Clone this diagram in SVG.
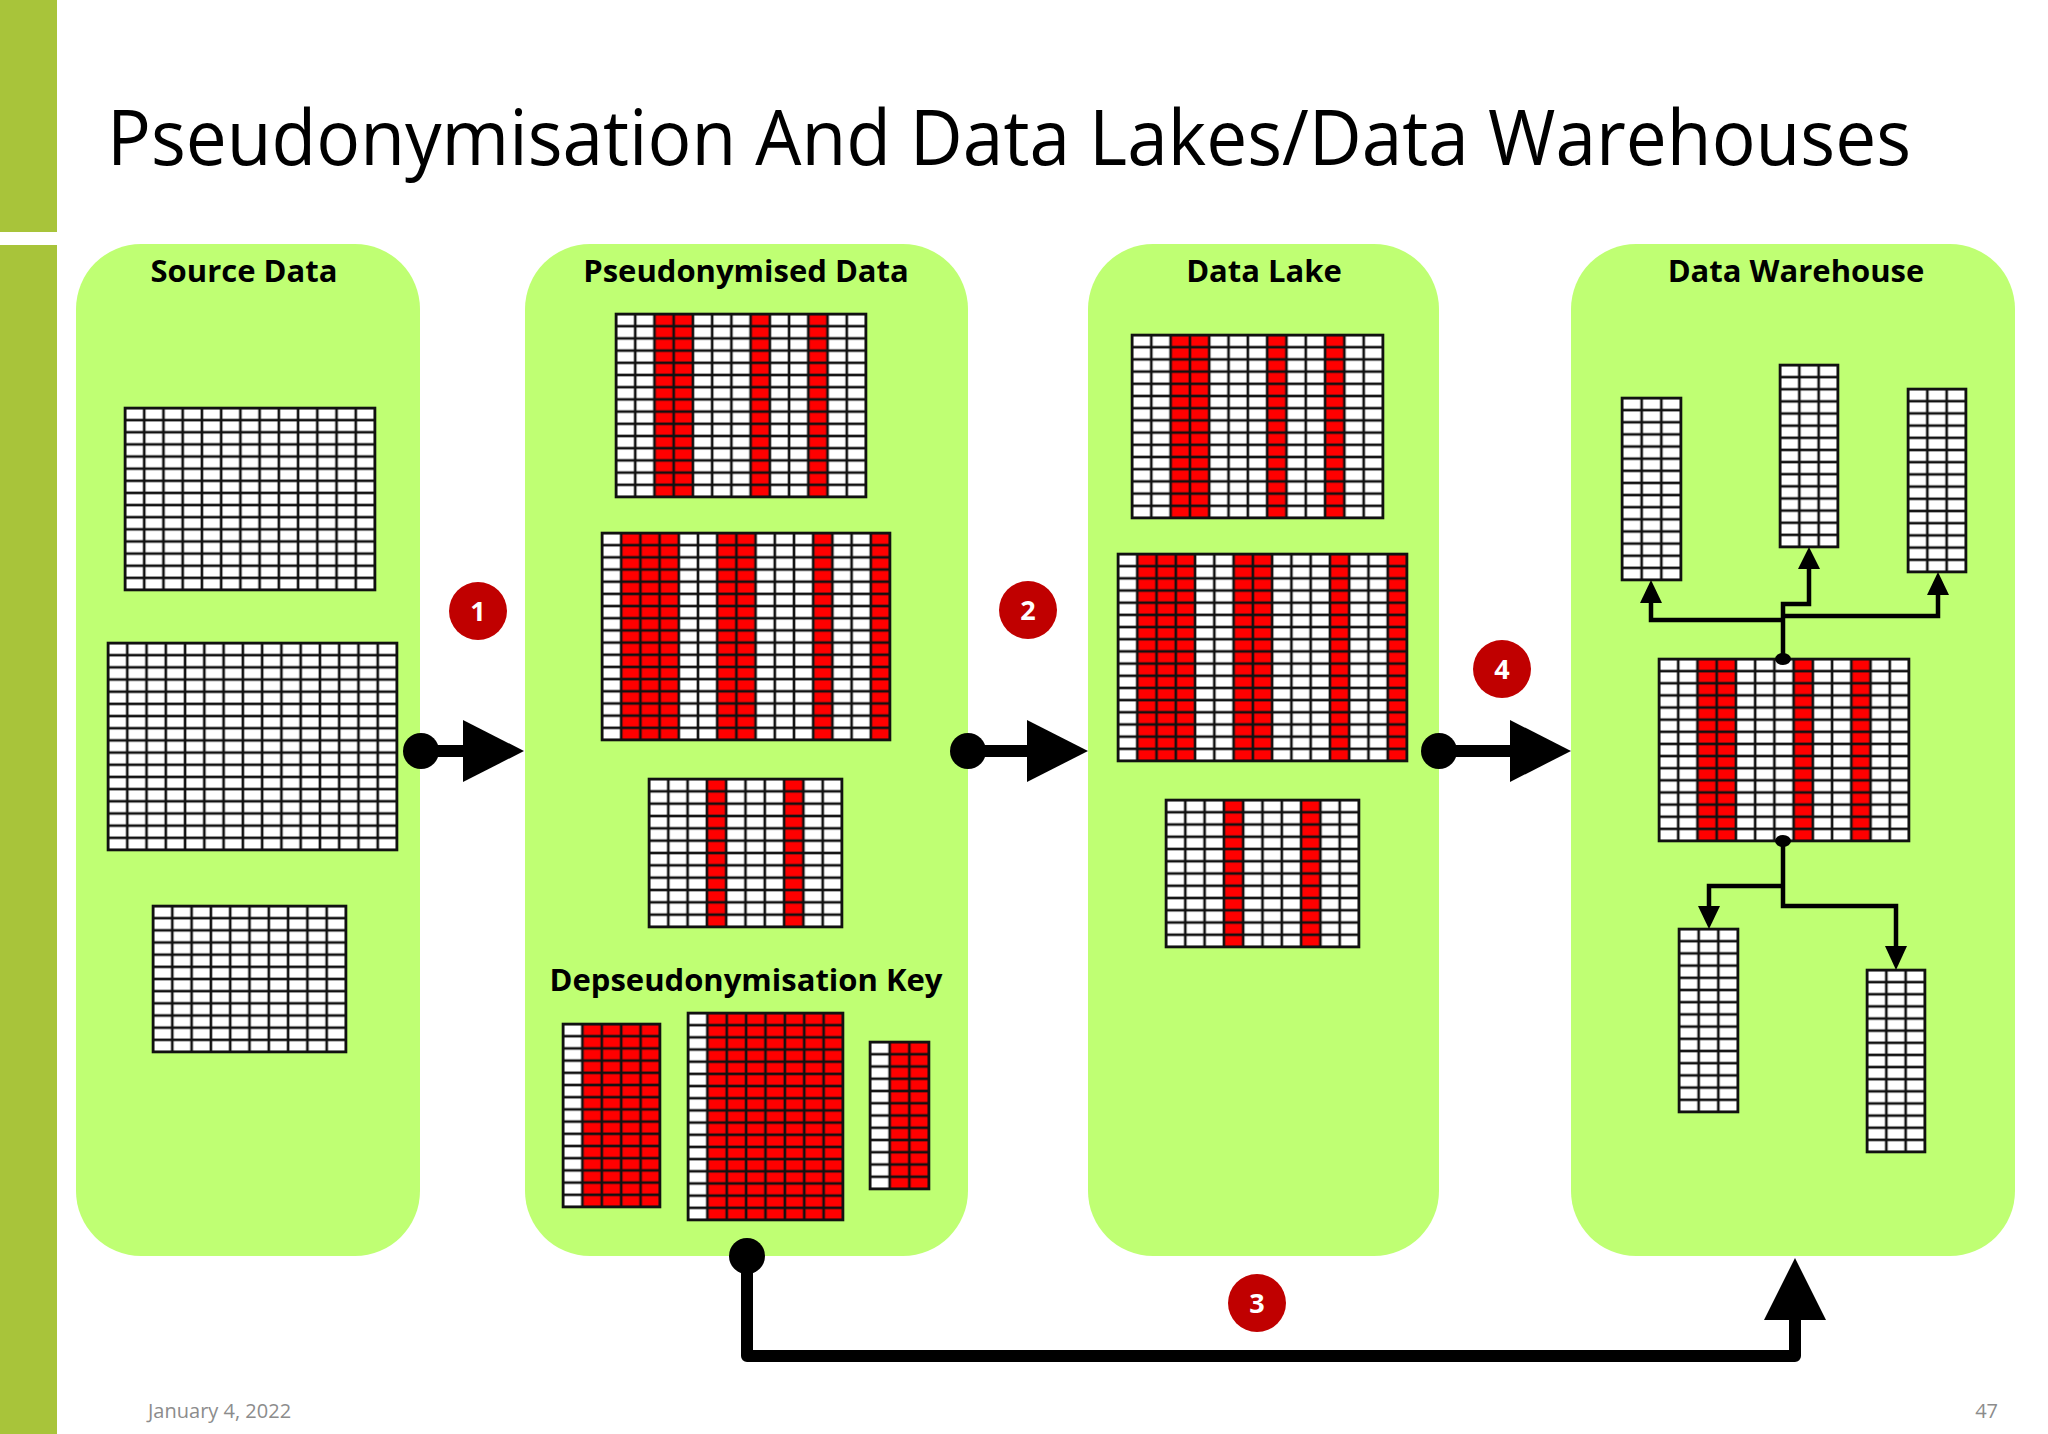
<svg xmlns="http://www.w3.org/2000/svg" width="2048" height="1434" viewBox="0 0 2048 1434">
<style>
.c{fill:none;stroke:#111;stroke-width:2.6}
.o{fill:none;stroke:#111;stroke-width:2.6}
.w{fill:#fff}
.r{fill:#f00}
.panel{fill:#bfff73}
.pt{font-family:"Open Sans","Noto Sans",sans-serif;font-weight:bold;font-size:31px;fill:#000;text-anchor:middle}
.num{font-family:"Open Sans","Noto Sans",sans-serif;font-weight:bold;font-size:27px;fill:#fff;text-anchor:middle}
.badge{fill:#c00000}
.ln{fill:none;stroke:#000;stroke-width:12}
.ln2{fill:none;stroke:#000;stroke-width:4.5}
</style>
<defs>
<pattern id="gS1" patternUnits="userSpaceOnUse" x="125" y="408" width="19.231" height="12.133"><rect width="19.231" height="12.133" class="c"/></pattern>
<pattern id="gS2" patternUnits="userSpaceOnUse" x="108" y="643" width="19.267" height="12.176"><rect width="19.267" height="12.176" class="c"/></pattern>
<pattern id="gS3" patternUnits="userSpaceOnUse" x="153" y="906" width="19.3" height="12.167"><rect width="19.3" height="12.167" class="c"/></pattern>
<pattern id="gP1" patternUnits="userSpaceOnUse" x="616" y="314" width="19.231" height="12.2"><rect width="19.231" height="12.2" class="c"/></pattern>
<pattern id="gP2" patternUnits="userSpaceOnUse" x="602" y="533" width="19.2" height="12.176"><rect width="19.2" height="12.176" class="c"/></pattern>
<pattern id="gP3" patternUnits="userSpaceOnUse" x="649" y="779" width="19.3" height="12.333"><rect width="19.3" height="12.333" class="c"/></pattern>
<pattern id="gK1" patternUnits="userSpaceOnUse" x="563" y="1024" width="19.4" height="12.2"><rect width="19.4" height="12.2" class="c"/></pattern>
<pattern id="gK2" patternUnits="userSpaceOnUse" x="688" y="1013" width="19.375" height="12.176"><rect width="19.375" height="12.176" class="c"/></pattern>
<pattern id="gK3" patternUnits="userSpaceOnUse" x="870" y="1042" width="19.667" height="12.25"><rect width="19.667" height="12.25" class="c"/></pattern>
<pattern id="gL1" patternUnits="userSpaceOnUse" x="1132" y="335" width="19.308" height="12.2"><rect width="19.308" height="12.2" class="c"/></pattern>
<pattern id="gL2" patternUnits="userSpaceOnUse" x="1118" y="554" width="19.267" height="12.176"><rect width="19.267" height="12.176" class="c"/></pattern>
<pattern id="gL3" patternUnits="userSpaceOnUse" x="1166" y="800" width="19.3" height="12.25"><rect width="19.3" height="12.25" class="c"/></pattern>
<pattern id="gW1" patternUnits="userSpaceOnUse" x="1622" y="398" width="19.667" height="12.133"><rect width="19.667" height="12.133" class="c"/></pattern>
<pattern id="gW2" patternUnits="userSpaceOnUse" x="1780" y="365" width="19.333" height="12.133"><rect width="19.333" height="12.133" class="c"/></pattern>
<pattern id="gW3" patternUnits="userSpaceOnUse" x="1908" y="389" width="19.333" height="12.2"><rect width="19.333" height="12.2" class="c"/></pattern>
<pattern id="gWC" patternUnits="userSpaceOnUse" x="1659" y="659" width="19.231" height="12.133"><rect width="19.231" height="12.133" class="c"/></pattern>
<pattern id="gB1" patternUnits="userSpaceOnUse" x="1679" y="929" width="19.667" height="12.2"><rect width="19.667" height="12.2" class="c"/></pattern>
<pattern id="gB2" patternUnits="userSpaceOnUse" x="1867" y="970" width="19.333" height="12.133"><rect width="19.333" height="12.133" class="c"/></pattern>
</defs>
<rect width="2048" height="1434" fill="#fff"/>
<rect x="0" y="0" width="57" height="232" fill="#a8c43a"/>
<rect x="0" y="245" width="57" height="1189" fill="#a8c43a"/>
<text x="107" y="165" font-family="'Open Sans','Noto Sans',sans-serif" font-size="76" textLength="1804" lengthAdjust="spacingAndGlyphs" fill="#000">Pseudonymisation And Data Lakes/Data Warehouses</text>

<g id="source-data">
<rect class="panel" x="76" y="244" width="344" height="1012" rx="65"/>
<text class="pt" x="244" y="282">Source Data</text>
<g id="S1"><rect class="w" x="125" y="408" width="250" height="182"/><rect fill="url(#gS1)" x="125" y="408" width="250" height="182"/><rect class="o" x="125" y="408" width="250" height="182"/></g>
<g id="S2"><rect class="w" x="108" y="643" width="289" height="207"/><rect fill="url(#gS2)" x="108" y="643" width="289" height="207"/><rect class="o" x="108" y="643" width="289" height="207"/></g>
<g id="S3"><rect class="w" x="153" y="906" width="193" height="146"/><rect fill="url(#gS3)" x="153" y="906" width="193" height="146"/><rect class="o" x="153" y="906" width="193" height="146"/></g>
</g>

<g id="pseudonymised-data">
<rect class="panel" x="525" y="244" width="443" height="1012" rx="65"/>
<text class="pt" x="746" y="282">Pseudonymised Data</text>
<g id="P1"><rect class="w" x="616" y="314" width="250" height="183"/><rect class="r" x="654.5" y="314" width="38.5" height="183"/><rect class="r" x="750.6" y="314" width="19.2" height="183"/><rect class="r" x="808.3" y="314" width="19.2" height="183"/><rect fill="url(#gP1)" x="616" y="314" width="250" height="183"/><rect class="o" x="616" y="314" width="250" height="183"/></g>
<g id="P2"><rect class="w" x="602" y="533" width="288" height="207"/><rect class="r" x="621.2" y="533" width="57.6" height="207"/><rect class="r" x="717.2" y="533" width="38.4" height="207"/><rect class="r" x="813.2" y="533" width="19.2" height="207"/><rect class="r" x="870.8" y="533" width="19.2" height="207"/><rect fill="url(#gP2)" x="602" y="533" width="288" height="207"/><rect class="o" x="602" y="533" width="288" height="207"/></g>
<g id="P3"><rect class="w" x="649" y="779" width="193" height="148"/><rect class="r" x="706.9" y="779" width="19.3" height="148"/><rect class="r" x="784.1" y="779" width="19.3" height="148"/><rect fill="url(#gP3)" x="649" y="779" width="193" height="148"/><rect class="o" x="649" y="779" width="193" height="148"/></g>
<text class="pt" x="746" y="991">Depseudonymisation Key</text>
<g id="K1"><rect class="w" x="563" y="1024" width="97" height="183"/><rect class="r" x="582.4" y="1024" width="77.6" height="183"/><rect fill="url(#gK1)" x="563" y="1024" width="97" height="183"/><rect class="o" x="563" y="1024" width="97" height="183"/></g>
<g id="K2"><rect class="w" x="688" y="1013" width="155" height="207"/><rect class="r" x="707.4" y="1013" width="135.6" height="207"/><rect fill="url(#gK2)" x="688" y="1013" width="155" height="207"/><rect class="o" x="688" y="1013" width="155" height="207"/></g>
<g id="K3"><rect class="w" x="870" y="1042" width="59" height="147"/><rect class="r" x="889.7" y="1042" width="39.3" height="147"/><rect fill="url(#gK3)" x="870" y="1042" width="59" height="147"/><rect class="o" x="870" y="1042" width="59" height="147"/></g>
</g>

<g id="data-lake">
<rect class="panel" x="1088" y="244" width="351" height="1012" rx="65"/>
<text class="pt" x="1264" y="282">Data Lake</text>
<g id="L1"><rect class="w" x="1132" y="335" width="251" height="183"/><rect class="r" x="1170.6" y="335" width="38.6" height="183"/><rect class="r" x="1267.2" y="335" width="19.3" height="183"/><rect class="r" x="1325.1" y="335" width="19.3" height="183"/><rect fill="url(#gL1)" x="1132" y="335" width="251" height="183"/><rect class="o" x="1132" y="335" width="251" height="183"/></g>
<g id="L2"><rect class="w" x="1118" y="554" width="289" height="207"/><rect class="r" x="1137.3" y="554" width="57.8" height="207"/><rect class="r" x="1233.6" y="554" width="38.5" height="207"/><rect class="r" x="1329.9" y="554" width="19.3" height="207"/><rect class="r" x="1387.7" y="554" width="19.3" height="207"/><rect fill="url(#gL2)" x="1118" y="554" width="289" height="207"/><rect class="o" x="1118" y="554" width="289" height="207"/></g>
<g id="L3"><rect class="w" x="1166" y="800" width="193" height="147"/><rect class="r" x="1223.9" y="800" width="19.3" height="147"/><rect class="r" x="1301.1" y="800" width="19.3" height="147"/><rect fill="url(#gL3)" x="1166" y="800" width="193" height="147"/><rect class="o" x="1166" y="800" width="193" height="147"/></g>
</g>

<g id="data-warehouse">
<rect class="panel" x="1571" y="244" width="444" height="1012" rx="65"/>
<text class="pt" x="1796" y="282">Data Warehouse</text>
<g id="W1"><rect class="w" x="1622" y="398" width="59" height="182"/><rect fill="url(#gW1)" x="1622" y="398" width="59" height="182"/><rect class="o" x="1622" y="398" width="59" height="182"/></g>
<g id="W2"><rect class="w" x="1780" y="365" width="58" height="182"/><rect fill="url(#gW2)" x="1780" y="365" width="58" height="182"/><rect class="o" x="1780" y="365" width="58" height="182"/></g>
<g id="W3"><rect class="w" x="1908" y="389" width="58" height="183"/><rect fill="url(#gW3)" x="1908" y="389" width="58" height="183"/><rect class="o" x="1908" y="389" width="58" height="183"/></g>
<g id="WC"><rect class="w" x="1659" y="659" width="250" height="182"/><rect class="r" x="1697.5" y="659" width="38.5" height="182"/><rect class="r" x="1793.6" y="659" width="19.2" height="182"/><rect class="r" x="1851.3" y="659" width="19.2" height="182"/><rect fill="url(#gWC)" x="1659" y="659" width="250" height="182"/><rect class="o" x="1659" y="659" width="250" height="182"/></g>
<g id="B1"><rect class="w" x="1679" y="929" width="59" height="183"/><rect fill="url(#gB1)" x="1679" y="929" width="59" height="183"/><rect class="o" x="1679" y="929" width="59" height="183"/></g>
<g id="B2"><rect class="w" x="1867" y="970" width="58" height="182"/><rect fill="url(#gB2)" x="1867" y="970" width="58" height="182"/><rect class="o" x="1867" y="970" width="58" height="182"/></g>
</g>

<g id="connectors">
<circle cx="421" cy="751" r="18"/><line class="ln" x1="421" y1="751" x2="465" y2="751"/><polygon points="463,720 524,751 463,782"/>
<circle cx="968" cy="751" r="18"/><line class="ln" x1="968" y1="751" x2="1029" y2="751"/><polygon points="1027,720 1088,751 1027,782"/>
<circle cx="1439" cy="751" r="18"/><line class="ln" x1="1439" y1="751" x2="1512" y2="751"/><polygon points="1510,720 1571,751 1510,782"/>
<circle cx="747" cy="1256" r="18"/>
<polyline class="ln" points="747,1256 747,1356 1795,1356 1795,1318" stroke-linejoin="round"/>
<polygon points="1764,1320 1795,1258 1826,1320"/>
<ellipse cx="1783" cy="659" rx="8" ry="6"/>
<ellipse cx="1783" cy="841" rx="8" ry="6"/>
<polyline class="ln2" points="1783,659 1783,604 1809,604 1809,568"/>
<polyline class="ln2" points="1783,620 1651,620 1651,602"/>
<polyline class="ln2" points="1783,616 1938,616 1938,594"/>
<polygon points="1640,603 1651,580 1662,603"/>
<polygon points="1798,569 1809,547 1820,569"/>
<polygon points="1927,595 1938,572 1949,595"/>
<polyline class="ln2" points="1783,841 1783,906 1896,906 1896,947"/>
<polyline class="ln2" points="1783,886 1709,886 1709,907"/>
<polygon points="1698,906 1709,929 1720,906"/>
<polygon points="1885,946 1896,970 1907,946"/>
</g>

<g id="badges">
<circle class="badge" cx="478" cy="611" r="29"/><text class="num" x="478" y="621">1</text>
<circle class="badge" cx="1028" cy="610" r="29"/><text class="num" x="1028" y="620">2</text>
<circle class="badge" cx="1257" cy="1303" r="29"/><text class="num" x="1257" y="1313">3</text>
<circle class="badge" cx="1502" cy="669" r="29"/><text class="num" x="1502" y="679">4</text>
</g>
<text x="148" y="1418" font-family="'Open Sans','Noto Sans',sans-serif" font-size="20" fill="#8c8c8c">January 4, 2022</text>
<text x="1998" y="1418" font-family="'Open Sans','Noto Sans',sans-serif" font-size="20" fill="#8c8c8c" text-anchor="end">47</text>
</svg>
